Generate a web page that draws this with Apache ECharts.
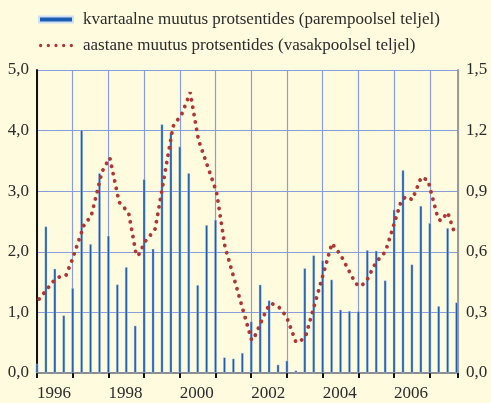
<!DOCTYPE html>
<html>
<head>
<meta charset="utf-8">
<script src="https://cdn.jsdelivr.net/npm/echarts@6/dist/echarts.min.js"></script>
<style>
  html, body { margin: 0; padding: 0; background: #fffbdf; }
  #chart { width: 491px; height: 403px; }
</style>
</head>
<body>
<div id="chart"></div>
<script>
// quarterly change, % (right axis), 1995 IV .. 2007 III
const quarterLabels = ['1995 IV'];
for (let y = 1996; y <= 2007; y++) {
    ['I', 'II', 'III', 'IV'].forEach(function (q) {
        if (!(y === 2007 && q === 'IV')) quarterLabels.push(y + ' ' + q);
    });
}
const quarterlyChange = [
    0.045,
    0.725, 0.516, 0.285, 0.42,
    1.203, 0.638, 0.989, 0.679,
    0.438, 0.524, 0.234, 0.959,
    0.615, 1.231, 1.187, 1.121,
    0.989, 0.435, 0.732, 0.758,
    0.077, 0.071, 0.099, 0.255,
    0.437, 0.359, 0.041, 0.061,
    0.012, 0.518, 0.582, 0.557,
    0.462, 0.313, 0.307, 0.305,
    0.608, 0.605, 0.458, 0.809,
    1.004, 0.537, 0.827, 0.742,
    0.331, 0.717, 0.349
];

// annual change, % (left axis)
const annualTimes = [
    1996.06, 1996.48, 1996.64, 1996.81, 1996.98, 1997.34, 1997.51, 1997.82, 1997.93, 1998.04,
    1998.30, 1998.44, 1998.57, 1998.77, 1998.83, 1999.03, 1999.17, 1999.31, 1999.81, 1999.93,
    2000.06, 2000.22, 2000.29, 2000.52, 2001.03, 2001.27, 2001.34, 2002.01, 2002.08, 2002.44,
    2002.56, 2002.77, 2002.91, 2003.02, 2003.25, 2003.37, 2003.53, 2004.26, 2004.39, 2004.52,
    2004.83, 2004.94, 2005.07, 2005.24, 2005.43, 2005.56, 2005.71, 2005.80, 2006.20, 2006.33,
    2006.51, 2006.76, 2006.95, 2007.23, 2007.31, 2007.50, 2007.71
];
const annualChange = [
    1.22, 1.53, 1.59, 1.61, 1.86, 2.48, 2.57, 3.32, 3.44, 3.55,
    2.82, 2.73, 2.63, 1.98, 1.93, 2.17, 2.27, 2.38, 4.07, 4.17,
    4.28, 4.52, 4.63, 3.85, 2.98, 2.06, 1.93, 0.54, 0.58, 1.06,
    1.15, 1.09, 0.99, 0.88, 0.51, 0.52, 0.62, 2.14, 2.04, 1.93,
    1.58, 1.47, 1.43, 1.53, 1.76, 1.87, 1.97, 2.08, 2.84, 2.91,
    2.86, 3.23, 3.18, 2.55, 2.51, 2.65, 2.28
];

const seriesNames = [
    'kvartaalne muutus protsentides (parempoolsel teljel)',
    'aastane muutus protsentides (vasakpoolsel teljel)'
];

const romans = { I: 1, II: 2, III: 3, IV: 4 };
function quarterEnd(label) {
    const p = label.split(' ');
    return Number(p[0]) + romans[p[1]] / 4;
}

const font = '"Liberation Serif", "DejaVu Serif", serif';
const gridColor = '#8a9ddb';
const comma = function (d) { return function (v) { return v.toFixed(d).replace('.', ','); }; };
// five dots for the legend of the dotted line
const dotsIcon = 'path://M0,1.5a1.5,1.5 0 1,0 3,0a1.5,1.5 0 1,0 -3,0' +
    'M7,1.5a1.5,1.5 0 1,0 3,0a1.5,1.5 0 1,0 -3,0' +
    'M14,1.5a1.5,1.5 0 1,0 3,0a1.5,1.5 0 1,0 -3,0' +
    'M21,1.5a1.5,1.5 0 1,0 3,0a1.5,1.5 0 1,0 -3,0' +
    'M28,1.5a1.5,1.5 0 1,0 3,0a1.5,1.5 0 1,0 -3,0';

const chart = echarts.init(document.getElementById('chart'));
chart.setOption({
    backgroundColor: '#fffbdf',
    animation: false,
    textStyle: { fontFamily: font },
    legend: {
        orient: 'vertical',
        left: 33,
        top: 6,
        itemGap: 9,
        itemWidth: 34,
        itemHeight: 6,
        textStyle: { fontFamily: font, fontSize: 17, color: '#2b2b2b', padding: [0, 0, 0, 5] },
        data: [
            { name: seriesNames[0], icon: 'rect' },
            { name: seriesNames[1], icon: dotsIcon }
        ]
    },
    grid: { left: 37, right: 33, top: 70, bottom: 30 },
    xAxis: {
        type: 'value',
        min: 1996,
        max: 2007.79,
        interval: 1,
        axisLine: { lineStyle: { color: '#8d8d8d', width: 2 } },
        axisTick: { show: true, length: 5, lineStyle: { color: '#111', width: 2 } },
        axisLabel: {
            align: 'left',
            margin: 12,
            fontSize: 17,
            color: '#2b2b2b',
            fontFamily: font,
            formatter: function (v) {
                return (Number.isInteger(v) && v % 2 === 0 && v < 2007) ? String(v) : '';
            }
        },
        splitLine: { show: true, lineStyle: { color: gridColor, width: 1.2 } }
    },
    yAxis: [
        {
            type: 'value',
            min: 0,
            max: 5,
            interval: 1,
            axisLine: { show: true, lineStyle: { color: '#111', width: 2 } },
            axisTick: { show: false },
            axisLabel: { margin: 8, fontSize: 17, color: '#2b2b2b', fontFamily: font, formatter: comma(1) },
            splitLine: { show: true, lineStyle: { color: gridColor, width: 1.2 } }
        },
        {
            type: 'value',
            min: 0,
            max: 1.5,
            interval: 0.3,
            position: 'right',
            axisLine: { show: true, lineStyle: { color: '#9a9a9a', width: 2 } },
            axisTick: { show: false },
            axisLabel: { margin: 8, fontSize: 17, color: '#2b2b2b', fontFamily: font, formatter: comma(1) },
            splitLine: { show: false }
        }
    ],
    series: [
        {
            name: seriesNames[0],
            type: 'bar',
            yAxisIndex: 1,
            barWidth: 2.6,
            itemStyle: { color: '#1c5db4', borderColor: '#cfe0f5', borderWidth: 0.4 },
            data: quarterLabels.map(function (q, i) { return [quarterEnd(q), quarterlyChange[i]]; })
        },
        {
            name: seriesNames[1],
            type: 'line',
            yAxisIndex: 0,
            symbol: 'none',
            z: 3,
            lineStyle: { color: '#b03535', width: 3.8, type: [0.1, 7.4], cap: 'round' },
            itemStyle: { color: '#b03535' },
            data: annualTimes.map(function (t, i) { return [t, annualChange[i]]; })
        }
    ]
});
</script>
</body>
</html>
